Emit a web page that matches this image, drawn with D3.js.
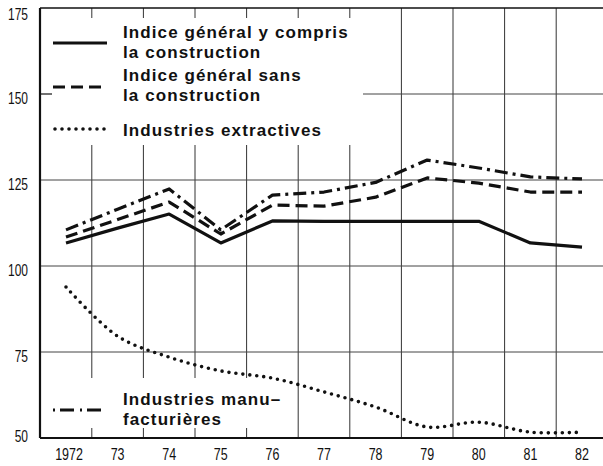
<!DOCTYPE html>
<html>
<head>
<meta charset="utf-8">
<script src="https://cdn.jsdelivr.net/npm/d3@7"></script>
<style>
    body { margin: 0; background: #fff; }
    #chart svg { display: block; }
    .tick-label { font-family: "Liberation Sans", Arial, sans-serif; font-size: 16px; fill: #111; }
    .legend-label { font-family: "Liberation Sans", Arial, sans-serif; font-weight: bold; font-size: 17px; letter-spacing: 1.1px; fill: #111; }
</style>
</head>
<body>
<div id="chart"></div>
<script>
const years = ["1972", "73", "74", "75", "76", "77", "78", "79", "80", "81", "82"];
const yTicks = [50, 75, 100, 125, 150, 175];

// Indice général y compris la construction
const generalValues = [106.7, 111, 115.1, 106.7, 113.1, 113, 113, 113, 113, 106.7, 105.5];
// Indice général sans la construction
const sansConstructionValues = [108.4, 113.5, 118.6, 109.3, 117.7, 117.4, 120, 125.6, 124.1, 121.5, 121.5];
// Industries extractives
const extractivesValues = [93.9, 79.6, 73.5, 69.5, 67.4, 63.4, 59, 53.2, 54.6, 51.7, 51.7];
// Industries manufacturières
const manufValues = [110.5, 116.5, 122.4, 110.5, 120.6, 121.5, 124.3, 130.8, 128.5, 125.9, 125.3];

const width = 603;
const height = 466;

const svg = d3.select("#chart")
    .append("svg")
    .attr("width", width)
    .attr("height", height);

const x = d3.scalePoint()
    .domain(years)
    .range([66, 582]);

const step = x.step();

const y = d3.scaleLinear()
    .domain([50, 175])
    .range([438, 8]);

const lineStyles = {
    general: { dash: null, width: 3.2, cap: "butt" },
    sans: { dash: "12,6", width: 3.2, cap: "butt" },
    extract: { dash: "0,7", width: 3.6, cap: "round" },
    manuf: { dash: "13,5,3,5", width: 3.2, cap: "butt" }
};

// grid
const gridX = years.map(d => x(d) + step / 2);

svg.append("g")
    .selectAll("line")
    .data(gridX)
    .join("line")
    .attr("x1", d => d).attr("x2", d => d)
    .attr("y1", y(175)).attr("y2", y(50))
    .attr("stroke", "#333")
    .attr("stroke-width", 1);

svg.append("g")
    .selectAll("line")
    .data([75, 100, 125, 150])
    .join("line")
    .attr("x1", 40).attr("x2", width)
    .attr("y1", d => y(d)).attr("y2", d => y(d))
    .attr("stroke", "#444")
    .attr("stroke-width", 1);

// legend areas hide the grid
svg.append("rect")
    .attr("x", 41).attr("y", 18)
    .attr("width", 322).attr("height", 127)
    .attr("fill", "#fff");

svg.append("rect")
    .attr("x", 41).attr("y", 378)
    .attr("width", 250).attr("height", 50)
    .attr("fill", "#fff");

// frame
svg.append("line")
    .attr("x1", 40).attr("x2", width)
    .attr("y1", y(175)).attr("y2", y(175))
    .attr("stroke", "#111").attr("stroke-width", 1.6);

svg.append("line")
    .attr("x1", 40).attr("x2", width)
    .attr("y1", y(50)).attr("y2", y(50))
    .attr("stroke", "#111").attr("stroke-width", 2.2);

svg.append("line")
    .attr("x1", 40).attr("x2", 40)
    .attr("y1", y(175)).attr("y2", y(50))
    .attr("stroke", "#111").attr("stroke-width", 2.2);

svg.append("line")
    .attr("x1", 40).attr("x2", 52)
    .attr("y1", y(150)).attr("y2", y(150))
    .attr("stroke", "#111").attr("stroke-width", 1.2);

// axis labels (narrow digits, like the printed original)
svg.append("g")
    .selectAll("text")
    .data(yTicks)
    .join("text")
    .attr("class", "tick-label")
    .attr("text-anchor", "end")
    .attr("transform", d => {
        const ty = d === 175 ? y(d) + 12 : (d === 50 ? y(d) + 4 : y(d) + 10);
        return `translate(28,${ty}) scale(0.75,1)`;
    })
    .text(d => d);

svg.append("g")
    .selectAll("text")
    .data(years)
    .join("text")
    .attr("class", "tick-label")
    .attr("text-anchor", "middle")
    .attr("transform", d => `translate(${x(d) + (d === "1972" ? 3 : 0)},460) scale(0.78,1)`)
    .text(d => d);

// series
const line = d3.line()
    .x((d, i) => x(years[i]))
    .y(d => y(d));

const smoothLine = d3.line()
    .x((d, i) => x(years[i]))
    .y(d => y(d))
    .curve(d3.curveCatmullRom.alpha(0.5));

function drawSeries(values, style, gen) {
    svg.append("path")
        .datum(values)
        .attr("d", gen)
        .attr("fill", "none")
        .attr("stroke", "#111")
        .attr("stroke-width", style.width)
        .attr("stroke-linecap", style.cap)
        .attr("stroke-linejoin", "round")
        .attr("stroke-dasharray", style.dash);
}

drawSeries(generalValues, lineStyles.general, line);
drawSeries(sansConstructionValues, lineStyles.sans, line);
drawSeries(manufValues, lineStyles.manuf, line);
drawSeries(extractivesValues, lineStyles.extract, smoothLine);

// legend
const legendItems = [
    { style: lineStyles.general, sy: 43, lines: ["Indice général y compris", "la construction"], ty: 38 },
    { style: lineStyles.sans, sy: 87, lines: ["Indice général sans", "la construction"], ty: 81 },
    { style: lineStyles.extract, sy: 129, lines: ["Industries extractives"], ty: 136 },
    { style: { dash: "2,5,14,6", width: 3.2, cap: "butt" }, sy: 410, lines: ["Industries manu–", "facturières"], ty: 405 }
];

const legend = svg.selectAll(".legend")
    .data(legendItems)
    .join("g")
    .attr("class", "legend");

legend.append("line")
    .attr("x1", d => d.style.cap === "round" ? 55 : 53)
    .attr("x2", 107)
    .attr("y1", d => d.sy).attr("y2", d => d.sy)
    .attr("stroke", "#111")
    .attr("stroke-width", d => d.style.width)
    .attr("stroke-linecap", d => d.style.cap)
    .attr("stroke-dasharray", d => d.style.dash);

legend.each(function(d) {
    d3.select(this).selectAll("text")
        .data(d.lines)
        .join("text")
        .attr("class", "legend-label")
        .attr("x", 123)
        .attr("y", (t, i) => d.ty + i * 20)
        .text(t => t);
});
</script>
</body>
</html>
